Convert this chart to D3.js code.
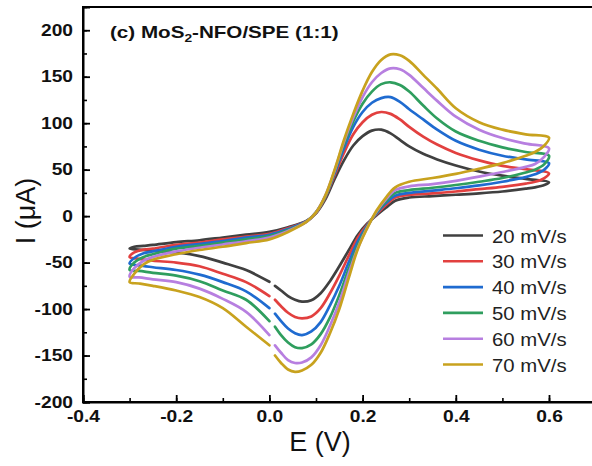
<!DOCTYPE html>
<html><head><meta charset="utf-8">
<script src="https://cdn.jsdelivr.net/npm/d3@7"></script>
<style>
html,body{margin:0;padding:0;background:#fff;}
svg{display:block;font-family:"Liberation Sans",Arial,sans-serif;}
</style></head>
<body>
<svg id="chart" width="592" height="466"></svg>
<script>
// ---------- data ----------
const seriesNames = ["20 mV/s","30 mV/s","40 mV/s","50 mV/s","60 mV/s","70 mV/s"];
const seriesColors = ["#404040","#e2403f","#1f6bd0","#2f9e5e","#b77fe0","#c8a21e"];

// anodic (forward) scan, E in V
const E_anodic = [-0.3,-0.29,-0.27,-0.25,-0.2,-0.15,-0.1,-0.05,0,0.04,0.08,0.1,0.12,0.14,0.16,0.18,0.2,0.22,0.24,0.26,0.28,0.3,0.33,0.36,0.4,0.45,0.5,0.55,0.6];
// cathodic (reverse) scan, part before the break and part after the break
const E_cathodic_a = [0.6,0.59,0.57,0.55,0.5,0.45,0.4,0.35,0.3,0.27,0.25,0.23,0.21,0.19,0.17,0.15,0.13,0.11,0.09,0.07,0.055,0.04,0.025,0.012];
const E_cathodic_b = [0,-0.05,-0.1,-0.15,-0.2,-0.25,-0.28,-0.3];

// currents in µA
const I20_anodic = [-35,-33,-32,-31,-28,-26,-23,-20,-17,-12,-5,3,18,40,60,76,86,92,93,89,82,75,67,61,54.5,48,43.5,40,36.5];
const I30_anodic = [-44,-39,-36,-35,-31,-28.5,-25,-22,-19,-13,-5.5,3.5,20,44,68,88,101,109,112,110,104,96,85.5,77,68,60,54,50.5,46];
const I40_anodic = [-51,-45,-40,-38,-33,-30,-27,-23,-20,-14,-5.5,4,21,46,73,96,112,122,127,128,123,115,104,93,81,71.5,65,61,57];
const I50_anodic = [-58,-50,-44,-41,-35,-32,-28.5,-25,-21.5,-15,-6,4,21,48,77,102,121,134,142,144,141,134,119,105,91,81,74,69,65];
const I60_anodic = [-65,-56,-48,-44,-38,-34,-30.5,-27,-23,-16,-6,4,22,49,80,106,128,144,154,159,158,152,138,124,107,93,84,78,73];
const I70_anodic = [-71,-62,-52,-47,-41,-36.5,-33,-29,-25,-17,-6,4,22,50,82,110,135,155,168,174,173,167,152,137,116,101,93,88,84.5];

const I20_cathodic_a = [36.5,33.5,31,29.5,26.5,24.5,23,21.5,20,16.5,9,1,-8,-20,-37,-54,-70,-83,-90.5,-92,-90,-86,-80,-75];
const I30_cathodic_a = [46,41,37,35,31.5,29,26.5,24.5,23,20,12,2,-9,-23,-43,-64,-83,-99,-108,-110,-108.5,-104,-97,-90];
const I40_cathodic_a = [57,50,45,42,37,33,30,27.5,25,22,14,3,-10,-27,-50,-75,-96,-114,-124,-128,-126,-121,-113,-105];
const I50_cathodic_a = [65,56,50,47,41,37,33.5,30.5,28,25,16,4,-11,-31,-57,-85,-109,-127,-138,-142,-141,-136,-128,-119];
const I60_cathodic_a = [73,64,56,53,47.5,42.5,38,34.5,32,28,18,5,-12,-34,-62,-93,-118,-139,-152,-157.5,-158,-155,-147,-139];
const I70_cathodic_a = [84.5,76,69,65,57,51,45.5,41,37,31,20,6,-13,-35,-67,-100,-126,-147,-160,-166,-167.5,-165,-158,-150];

const I20_cathodic_b = [-70.6,-58,-50,-43,-39,-37,-36,-35];
const I30_cathodic_b = [-86,-71,-62,-54,-50,-48,-46,-44];
const I40_cathodic_b = [-99,-81,-71,-63,-58,-55,-53,-51];
const I50_cathodic_b = [-113,-90,-80,-70,-64,-61,-59,-58];
const I60_cathodic_b = [-128,-103,-89,-78,-71,-68,-66,-65];
const I70_cathodic_b = [-139,-119,-99,-87,-80,-75,-72.5,-71];

const xTicks = [-0.4,-0.2,0.0,0.2,0.4,0.6];
const yTicks = [-200,-150,-100,-50,0,50,100,150,200];

const anodic = [I20_anodic,I30_anodic,I40_anodic,I50_anodic,I60_anodic,I70_anodic];
const cathA = [I20_cathodic_a,I30_cathodic_a,I40_cathodic_a,I50_cathodic_a,I60_cathodic_a,I70_cathodic_a];
const cathB = [I20_cathodic_b,I30_cathodic_b,I40_cathodic_b,I50_cathodic_b,I60_cathodic_b,I70_cathodic_b];

// ---------- layout ----------
const svg = d3.select("#chart");
const L = 83, R = 595.6, T = 7, B = 402;
const x = d3.scaleLinear().domain([-0.4, 0.7]).range([L, R]);
const y = d3.scaleLinear().domain([-200, 225]).range([B, T]);

// curves
const line = d3.line().x(d => x(d[0])).y(d => y(d[1])).curve(d3.curveCatmullRom.alpha(0.5));
const plot = svg.append("g");
seriesNames.forEach((name, i) => {
  let pts = [];
  E_cathodic_b.forEach((e, k) => pts.push([e, cathB[i][k]]));
  E_anodic.forEach((e, k) => pts.push([e, anodic[i][k]]));
  E_cathodic_a.forEach((e, k) => pts.push([e, cathA[i][k]]));
  pts = pts.filter((p, k) => k === 0 || p[0] !== pts[k-1][0] || p[1] !== pts[k-1][1]);
  plot.append("path").attr("d", line(pts)).attr("fill", "none")
    .attr("stroke", seriesColors[i]).attr("stroke-width", 2.7)
    .attr("stroke-linejoin", "round").attr("stroke-linecap", "round");
});

// frame
svg.append("rect").attr("x", L).attr("y", T).attr("width", R - L).attr("height", B - T)
  .attr("fill", "none").attr("stroke", "#000").attr("stroke-width", 2);

// axes
const SX = 1.2;
const xMinor = d3.axisBottom(x).tickValues(d3.range(-0.4, 0.71, 0.1)).tickSize(-4).tickFormat("");
const yMinor = d3.axisLeft(y).tickValues(d3.range(-200, 226, 25)).tickSize(-4).tickFormat("");
svg.append("g").attr("transform", `translate(0,${B})`).call(xMinor).call(g => g.select(".domain").remove())
  .selectAll("line").attr("stroke-width", 1.6);
svg.append("g").attr("transform", `translate(${L},0)`).call(yMinor).call(g => g.select(".domain").remove())
  .selectAll("line").attr("stroke-width", 1.6);

const xAxis = d3.axisBottom(x).tickValues(xTicks).tickSize(-7).tickPadding(9).tickFormat(d3.format(".1f"));
const yAxis = d3.axisLeft(y).tickValues(yTicks).tickSize(-7).tickPadding(10).tickFormat(d3.format("d"));
const gx = svg.append("g").attr("transform", `translate(0,${B})`).call(xAxis);
const gy = svg.append("g").attr("transform", `translate(${L},0)`).call(yAxis);
[gx, gy].forEach(g => {
  g.select(".domain").attr("stroke-width", 2);
  g.selectAll(".tick line").attr("stroke-width", 1.8);
  g.selectAll("text").attr("font-size", 16).attr("font-weight", "bold").attr("fill", "#111")
    .attr("font-family", "Liberation Sans, Arial, sans-serif");
});
gx.selectAll("text").attr("transform", `scale(${SX},1)`).text(d => d3.format(".1f")(d).replace("−","-"));
gy.selectAll("text").attr("x", -10 / SX).attr("transform", `scale(${SX},1)`).text(d => String(d));

// axis titles
svg.append("text").attr("x", 320).attr("y", 451).attr("text-anchor", "middle")
  .attr("font-size", 27).attr("fill", "#111").text("E (V)");
svg.append("text").attr("transform", "translate(35,211) rotate(-90)").attr("text-anchor", "middle")
  .attr("font-size", 27).attr("fill", "#111").text("I (μA)");

// panel title
const title = svg.append("text").attr("transform", `translate(110,38) scale(1.25,1)`)
  .attr("font-size", 16.5).attr("font-weight", "bold").attr("fill", "#111");
title.append("tspan").text("(c) MoS");
title.append("tspan").attr("font-size", 11).attr("dy", 4).text("2");
title.append("tspan").attr("dy", -4).text("-NFO/SPE (1:1)");

// legend
const lg = svg.append("g");
seriesNames.forEach((name, i) => {
  const yy = 235.5 + i * 25.8;
  lg.append("line").attr("x1", 443).attr("x2", 483).attr("y1", yy).attr("y2", yy)
    .attr("stroke", seriesColors[i]).attr("stroke-width", 2.6);
  lg.append("text").attr("transform", `translate(492,${yy + 7}) scale(1.13,1)`)
    .attr("font-size", 18).attr("fill", "#222").text(name);
});
</script>
</body></html>
